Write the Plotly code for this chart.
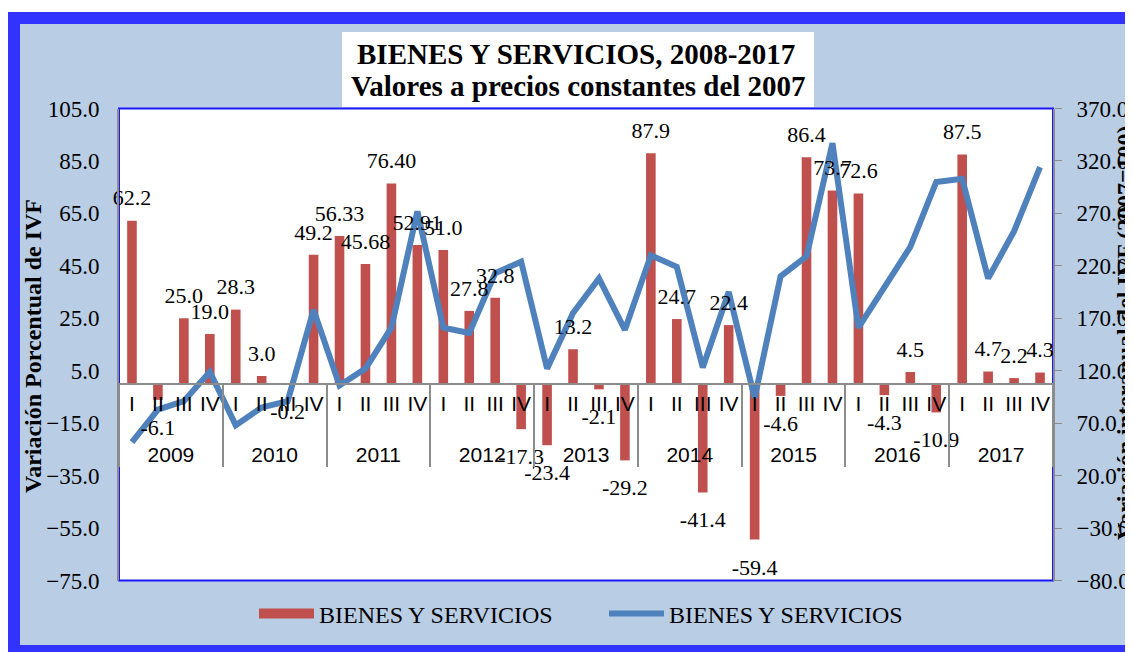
import plotly.graph_objects as go

years = ["2009", "2010", "2011", "2012", "2013", "2014", "2015", "2016", "2017"]
quarters = ["I", "II", "III", "IV"]

# variacion porcentual (barras), texto tal como aparece en la etiqueta
bar_labels = [
    "62.2", "-6.1", "25.0", "19.0",
    "28.3", "3.0", "-0.2", "49.2",
    "56.33", "45.68", "76.40", "52.91",
    "51.0", "27.8", "32.8", "-17.3",
    "-23.4", "13.2", "-2.1", "-29.2",
    "87.9", "24.7", "-41.4", "22.4",
    "-59.4", "-4.6", "86.4", "73.7",
    "72.6", "-4.3", "4.5", "-10.9",
    "87.5", "4.7", "2.2", "4.3",
]
bar_values = [float(s) for s in bar_labels]

# variacion interanual del IVF (2007=100), eje derecho
ivf_index = [
    52, 83, 91, 119,
    68, 85, 91, 178,
    106, 122, 161, 272,
    161, 156, 213, 224,
    122, 175, 208, 159,
    230, 219, 123, 195,
    94, 210, 229, 337,
    161, 200, 238, 300,
    303, 208, 253, 314,
]

left_range = [-75, 105]
right_range = [-80, 370]

# segunda linea vacia en el trimestre para bajar la fila de los años
x_year = [y for y in years for q in quarters]
x_quarter = [q + "<br> " for y in years for q in quarters]
x_cats = [x_year, x_quarter]
n_cats = len(x_year)

# the page body adds 8px around the figure
OFF = 8
W, H = 1133 - OFF, 652 - OFF


def px(X):
    return (X - OFF) / W


def py(Y):
    return 1 - (Y - OFF) / H


# plot area (page pixels)
L, R, T, B = 119, 1053, 108.5, 580.5
dom_x = [px(L), px(R)]
dom_y = [py(B), py(T)]
zero_pos = dom_y[0] + (0 - left_range[0]) / (left_range[1] - left_range[0]) * (dom_y[1] - dom_y[0])

red = "#C0504D"
blue = "#4F81BD"
grey = "#8C8C8C"
serif = "Liberation Serif, Times New Roman, serif"
sans = "Liberation Sans, Arial, sans-serif"

fig = go.Figure()

fig.add_trace(
    go.Bar(
        x=x_cats,
        y=bar_values,
        name="BIENES Y SERVICIOS",
        marker=dict(color=red, line=dict(width=0)),
        showlegend=False,
        legendgroup="barras",
        yaxis="y",
        hoverinfo="y",
    )
)
# entrada de leyenda de las barras (muestra rectangular ancha)
fig.add_trace(
    go.Scatter(
        x=[None],
        y=[None],
        mode="lines",
        name="BIENES Y SERVICIOS",
        line=dict(color=red, width=13),
        legendgroup="barras",
        hoverinfo="skip",
        yaxis="y",
    )
)
fig.add_trace(
    go.Scatter(
        x=x_cats,
        y=ivf_index,
        mode="lines",
        name="BIENES Y SERVICIOS",
        line=dict(color=blue, width=6),
        yaxis="y2",
    )
)
# etiquetas de datos de las barras
fig.add_trace(
    go.Scatter(
        x=x_cats,
        y=bar_values,
        mode="markers+text",
        text=bar_labels,
        textposition=["top center" if v >= 0 else "bottom center" for v in bar_values],
        textfont=dict(family=serif, size=22, color="black"),
        marker=dict(
            size=[14 if v >= 0 else 28 for v in bar_values],
            color="rgba(0,0,0,0)",
            line=dict(width=0, color="rgba(0,0,0,0)"),
        ),
        cliponaxis=False,
        showlegend=False,
        hoverinfo="skip",
        yaxis="y3",
    )
)

fig.update_layout(
    width=W,
    height=H,
    margin=dict(l=0, r=0, t=0, b=0, pad=0, autoexpand=False),
    paper_bgcolor="white",
    plot_bgcolor="white",
    font=dict(family=serif, color="black"),
    bargap=0.63,
    xaxis=dict(
        type="multicategory",
        domain=dom_x,
        range=[-0.5, n_cats - 0.5],
        anchor="free",
        position=zero_pos,
        automargin=False,
        showline=True,
        linecolor=grey,
        linewidth=2,
        showgrid=False,
        ticks="",
        tickmode="linear",
        dtick=1,
        tickangle=0,
        showdividers=True,
        dividercolor=grey,
        dividerwidth=2,
        tickfont=dict(family=sans, size=21, color="black"),
        ticklabelstandoff=1,
    ),
    yaxis=dict(
        domain=dom_y,
        anchor="x",
        range=left_range,
        tick0=left_range[0],
        dtick=20,
        tickformat=".1f",
        automargin=False,
        showgrid=False,
        zeroline=False,
        showline=True,
        linecolor=grey,
        linewidth=2,
        ticks="",
        ticklabelstandoff=13,
        tickfont=dict(family=serif, size=23, color="black"),
    ),
    yaxis2=dict(
        overlaying="y",
        side="right",
        anchor="x",
        range=right_range,
        tick0=right_range[0],
        dtick=50,
        tickformat=".1f",
        automargin=False,
        showgrid=False,
        zeroline=False,
        showline=True,
        linecolor=grey,
        linewidth=2,
        ticks="outside",
        ticklen=7,
        tickcolor=grey,
        ticklabelstandoff=10,
        tickfont=dict(family=serif, size=23, color="black"),
    ),
    yaxis3=dict(
        overlaying="y",
        anchor="x",
        range=left_range,
        visible=False,
        automargin=False,
    ),
    legend=dict(
        orientation="h",
        x=px(254),
        y=py(614),
        xanchor="left",
        yanchor="middle",
        font=dict(family=serif, size=24, color="black"),
        bgcolor="rgba(0,0,0,0)",
        itemwidth=55,
        entrywidth=280,
        entrywidthmode="pixels",
        traceorder="normal",
    ),
    shapes=[
        # marco azul y fondo celeste
        dict(
            type="rect", xref="paper", yref="paper", layer="below",
            x0=px(14), x1=1.02, y0=py(651), y1=py(18),
            line=dict(color="#3333FF", width=12), fillcolor="#B9CDE5",
        ),
        # area de trazado
        dict(
            type="rect", xref="paper", yref="paper", layer="below",
            x0=dom_x[0], x1=dom_x[1], y0=dom_y[0], y1=dom_y[1],
            line=dict(color="#1A1AFF", width=2), fillcolor="white",
        ),
        # recuadro del titulo
        dict(
            type="rect", xref="paper", yref="paper", layer="below",
            x0=px(342), x1=px(814), y0=py(107), y1=py(32),
            line=dict(width=0), fillcolor="white",
        ),
    ],
    annotations=[
        dict(
            text="<b>BIENES Y SERVICIOS, 2008-2017</b>",
            xref="paper", yref="paper", x=px(576), y=py(54),
            xanchor="center", yanchor="middle",
            showarrow=False, font=dict(family=serif, size=29, color="black"),
        ),
        dict(
            text="<b>Valores a precios constantes del 2007</b>",
            xref="paper", yref="paper", x=px(578), y=py(86),
            xanchor="center", yanchor="middle",
            showarrow=False, font=dict(family=serif, size=29, color="black"),
        ),
        dict(
            text="<b>Variación Porcentual de IVF</b>",
            xref="paper", yref="paper", x=px(33), y=py(346),
            xanchor="center", yanchor="middle",
            textangle=-90, showarrow=False,
            font=dict(family=serif, size=24, color="black"),
        ),
        dict(
            text="<b>Variación interanual del IVF (2007=100)</b>",
            xref="paper", yref="paper", x=px(1125), y=py(333),
            xanchor="center", yanchor="middle",
            textangle=-90, showarrow=False,
            font=dict(family=serif, size=24, color="black"),
        ),
    ],
)

fig.write_html("out.html")
